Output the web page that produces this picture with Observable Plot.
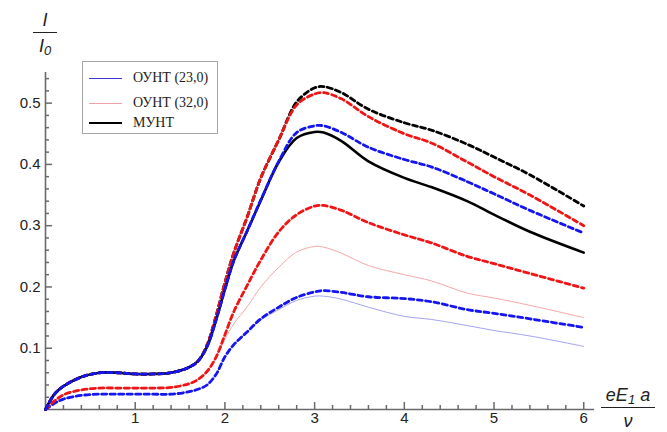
<!DOCTYPE html>
<html><head><meta charset="utf-8">
<script src="https://cdn.jsdelivr.net/npm/d3@7"></script>
<script src="https://cdn.jsdelivr.net/npm/@observablehq/plot@0.6"></script>
<style>
body{margin:0;background:#fff}
#wrap{position:relative;width:667px;height:432px;overflow:hidden;font-family:"Liberation Sans",Arial,sans-serif}
#wrap svg{position:absolute;left:0;top:0}
.frac{position:absolute;font-style:italic;font-size:18px;color:#222;text-align:center;line-height:20px}
.frac .bar{border-top:1.6px solid #222;margin:2px 0 3px 0}
.frac sub{font-size:13px;vertical-align:-3px;line-height:0}
#legend{position:absolute;left:82px;top:61px;width:134px;height:71px;border:1px solid #a6a6a6;background:#fff;font-family:"Liberation Serif","Times New Roman",serif;font-size:14px;color:#222}
.row{position:absolute;left:0;height:20px;display:flex;align-items:center;white-space:nowrap}
.sw{width:33px;margin-left:6px;margin-right:11px}
</style>
</head><body>
<div id="wrap"></div>
<script>
// ---- data ----
const X = [0, 0.1, 0.2, 0.4, 0.6, 0.8, 1.0, 1.2, 1.4, 1.6, 1.7, 1.8, 1.9, 2.0, 2.1, 2.25, 2.4, 2.6, 2.8, 3.0, 3.1, 3.3, 3.6, 4.0, 4.3, 4.7, 5.0, 5.4, 6.0];
const blackSolid = [0, .025, .038, .053, .060, .060, .058, .058, .060, .069, .079, .102, .145, .196, .243, .292, .341, .404, .443, .453, .452, .438, .405, .378, .363, .340, .318, .290, .256];
const blackDash  = [0, .025, .038, .053, .060, .060, .058, .058, .060, .069, .079, .105, .152, .207, .256, .315, .378, .440, .502, .525, .527, .517, .490, .468, .456, .433, .412, .383, .332];
const redDashHi  = [0, .025, .038, .053, .060, .060, .058, .058, .060, .069, .079, .105, .152, .207, .256, .315, .378, .440, .497, .515, .517, .507, .478, .450, .435, .404, .380, .350, .300];
const blueDashHi = [0, .025, .038, .053, .060, .060, .058, .058, .060, .069, .079, .102, .145, .196, .243, .292, .342, .405, .452, .463, .463, .452, .428, .408, .396, .372, .352, .325, .288];
const redDashLo  = [0, .014, .024, .032, .035, .035, .035, .035, .036, .042, .049, .062, .085, .122, .160, .203, .244, .290, .318, .332, .333, .325, .305, .285, .272, .250, .238, .222, .198];
const redThin    = [0, .014, .024, .032, .035, .035, .035, .035, .036, .042, .049, .062, .085, .115, .140, .168, .200, .232, .257, .266, .265, .255, .235, .220, .210, .190, .182, .170, .150];
const blueDashLo = [0, .010, .017, .023, .025, .025, .025, .025, .025, .029, .033, .040, .057, .086, .106, .127, .148, .167, .183, .192, .194, .191, .184, .181, .176, .163, .157, .148, .134];
const blueThin   = [0, .010, .017, .023, .025, .025, .025, .025, .025, .029, .033, .040, .057, .086, .106, .127, .146, .163, .178, .185, .185, .180, .167, .152, .147, .137, .129, .120, .103];

const xMajor = [1, 2, 3, 4, 5, 6];
const xMinor = d3.range(1, 31).map(i => i / 5).filter(v => !xMajor.some(m => Math.abs(m - v) < 1e-9));
const yMajor = [0.1, 0.2, 0.3, 0.4, 0.5];
const yMinor = d3.range(1, 28).map(i => i / 50).filter(v => !yMajor.some(m => Math.abs(m - v) < 1e-9));

const legendLabels = ["ОУНТ (23,0)", "ОУНТ (32,0)", "МУНТ"];
const legendColors = ["#3a3ad0", "#f0a0a8", "#000"];
const legendWidths = [1, 1, 2.6];
const legendRowTops = [6, 31, 51];

// ---- series styling ----
const series = [
  {y: blueThin,   stroke: "#a4a4f0", w: 1,   dash: null},
  {y: redThin,    stroke: "#f4a8a8", w: 1,   dash: null},
  {y: blueDashLo, stroke: "#1515f0", w: 2.8, dash: "5,3.5"},
  {y: redDashLo,  stroke: "#f01515", w: 2.8, dash: "5,3.5"},
  {y: blackDash,  stroke: "#000",    w: 2.8, dash: "5,3.5"},
  {y: redDashHi,  stroke: "#f01515", w: 2.8, dash: "5,3.5"},
  {y: blackSolid, stroke: "#000",    w: 2.6, dash: null},
  {y: blueDashHi, stroke: "#1515f0", w: 2.8, dash: "5,3.5"}
];

const W = 667, H = 432, mL = 45, mR = 73, mT = 72, mB = 23;
const frameW = W - mL - mR, frameH = H - mT - mB;
const axisColor = "#6a6a6a";
const majorLen = 7, minorLen = 4;
const lineMarks = series.map(s => Plot.line(X.map((x, i) => ({x, y: s.y[i]})), {
  x: "x", y: "y", stroke: s.stroke, strokeWidth: s.w, strokeDasharray: s.dash, curve: "catmull-rom"
}));

const chart = Plot.plot({
  width: W, height: H,
  marginLeft: mL, marginRight: mR, marginTop: mT, marginBottom: mB,
  x: {domain: [0, 6.12], label: null},
  y: {domain: [0, 0.55], label: null},
  style: {fontFamily: "'Liberation Sans', Arial, sans-serif", fontSize: "15px", color: "#222", background: "transparent"},
  marks: [
    Plot.ruleY([0], {stroke: axisColor, strokeWidth: 1.6}),
    Plot.ruleX([0], {stroke: axisColor, strokeWidth: 1.6}),
    Plot.ruleX(xMinor, {insetTop: frameH - minorLen, stroke: axisColor, strokeWidth: 1.5}),
    Plot.ruleX(xMajor, {insetTop: frameH - majorLen, stroke: axisColor, strokeWidth: 1.5}),
    Plot.ruleY(yMinor, {insetRight: frameW - minorLen, stroke: axisColor, strokeWidth: 1.5}),
    Plot.ruleY(yMajor, {insetRight: frameW - majorLen, stroke: axisColor, strokeWidth: 1.5}),
    Plot.axisX(xMajor, {tickSize: 0, tickPadding: 3, label: null, fill: "#222"}),
    Plot.axisY(yMajor, {tickSize: 0, tickPadding: 5, tickFormat: d3.format(".1f"), label: null, fill: "#222"}),
    ...lineMarks
  ]
});

const wrap = document.getElementById("wrap");
wrap.appendChild(chart);

// axis titles
const yTitle = document.createElement("div");
yTitle.className = "frac";
yTitle.style.cssText = "left:33px;top:10px;width:24px";
yTitle.innerHTML = "<div>I</div><div class='bar'></div><div>I<sub>0</sub></div>";
wrap.appendChild(yTitle);

const xTitle = document.createElement("div");
xTitle.className = "frac";
xTitle.style.cssText = "left:601px;top:385px;width:54px";
xTitle.innerHTML = "<div>eE<sub>1</sub> a</div><div class='bar'></div><div>ν</div>";
wrap.appendChild(xTitle);

// legend
const legend = document.createElement("div");
legend.id = "legend";
legendLabels.forEach((lab, i) => {
  const r = document.createElement("div");
  r.className = "row";
  r.style.top = legendRowTops[i] + "px";
  r.innerHTML = `<div class="sw" style="border-top:${legendWidths[i]}px solid ${legendColors[i]}"></div><span>${lab}</span>`;
  legend.appendChild(r);
});
wrap.appendChild(legend);
</script>
</body></html>
